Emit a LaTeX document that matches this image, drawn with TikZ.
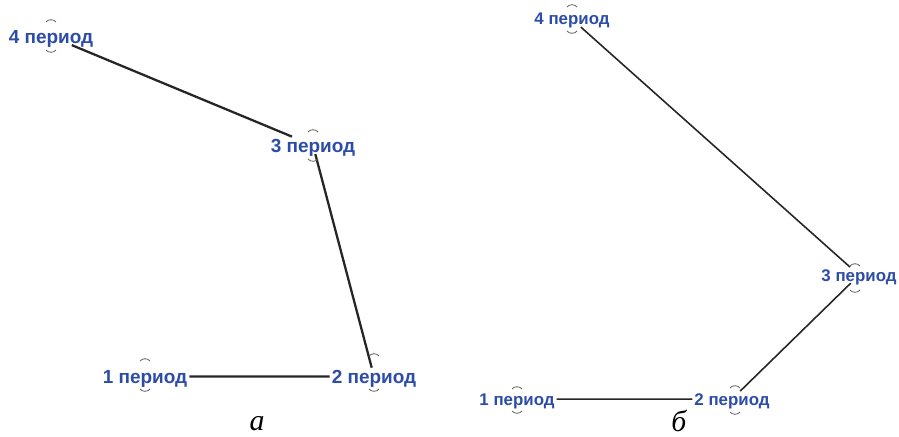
\documentclass[tikz,border=0pt]{standalone}
\usepackage{fontspec}
\setmainfont{Liberation Serif}
\newfontfamily\labelfont{Liberation Sans}
\usepackage{xcolor}
\usetikzlibrary{calc}

\definecolor{periodblue}{RGB}{44,76,168}

\begin{document}
\begin{tikzpicture}[
    x=0.02cm,y=-0.02cm,
    every node/.style={inner sep=1pt,anchor=base},
    period/.style={
        font=\labelfont\bfseries\fontsize{10.8}{13}\selectfont,
        text=periodblue,
        text depth=0pt
    },
    smallperiod/.style={
        period,
        font=\labelfont\bfseries\fontsize{9.6}{12}\selectfont
    },
    link/.style={draw=black!85,line width=1.3pt},
    thinlink/.style={draw=black!85,line width=0.9pt},
    tick/.style={draw=black!65,line width=0.45pt},
    caption/.style={font=\itshape\fontsize{17}{20}\selectfont}
]
\useasboundingbox (0,0) rectangle (899,436);

% Panel a
\node[period] (a4) at (51,43) {4 период};
\node[period] (a3) at (313,152) {3 период};
\node[period] (a1) at (145,383) {1 период};
\node[period] (a2) at (374,383) {2 период};

\draw[link] (a4) -- (a3);
\draw[link] (a3) -- (a2);
\draw[link] (a1) -- (a2);

\node[caption] (capa) at (257,430) {а};

% Panel b
\node[smallperiod] (b4) at (572,25) {4 период};
\node[smallperiod] (b3) at (859,281) {3 период};
\node[smallperiod] (b1) at (517,405) {1 период};
\node[smallperiod] (b2) at (732,405) {2 период};

\draw[thinlink] (b4) -- (b3);
\draw[thinlink] (b3) -- (b2);
\draw[thinlink] (b1) -- (b2);

\node[caption] (capb) at (679,431) {б};

% Small marks above and below the labels
\foreach \x/\up/\dn in {51/22/50, 313/132/159, 145/361/389, 374/356/389,
                        572/7/31, 855/266/290, 517/389/411, 735/388/412}{
    \draw[tick] (\x-5,\up) .. controls +(2,-3) and +(-2,-3) .. +(10,0);
    \draw[tick] (\x-5,\dn) .. controls +(2,3) and +(-2,3) .. +(10,0);
}

\end{tikzpicture}
\end{document}
